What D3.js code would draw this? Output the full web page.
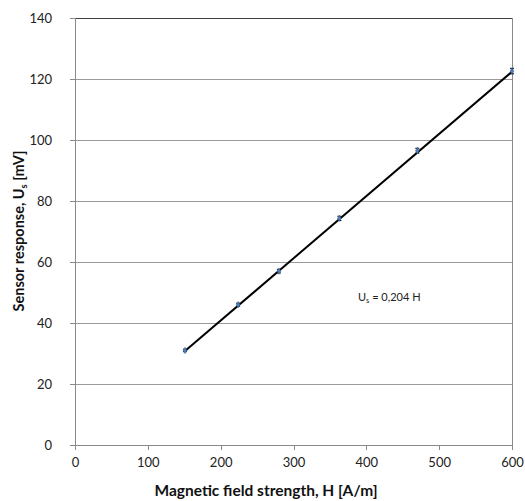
<!DOCTYPE html>
<html><head><meta charset="utf-8">
<script src="https://cdn.jsdelivr.net/npm/d3@7"></script>
<style>body{margin:0;background:#fff}svg{display:block}text{font-family:Lato,"Open Sans",sans-serif}</style>
</head><body>
<svg id="c" width="525" height="501"></svg>
<script>
const fieldH = [151, 224, 280, 363, 470, 600];
const response = [31, 46, 57, 74.3, 96.5, 122.6];
const errorBar = [0.4, 0.5, 0.6, 0.7, 0.8, 0.9];
const slope = 0.204;
const xTicks = [0, 100, 200, 300, 400, 500, 600];
const yTicks = [0, 20, 40, 60, 80, 100, 120, 140];

const svg = d3.select("#c");
const L = 75, R = 512, T = 18, B = 445;
const x = d3.scaleLinear().domain([0, 600]).range([L, R]);
const y = d3.scaleLinear().domain([0, 140]).range([B, T]);

// gridlines
svg.append("g").selectAll("line").data(yTicks.filter(d => d > 0 && d < 140)).join("line")
  .attr("x1", L).attr("x2", R).attr("y1", d => y(d)).attr("y2", d => y(d))
  .attr("stroke", "#9a9a9a").attr("stroke-width", 1).attr("shape-rendering", "crispEdges");

// top & right borders
svg.append("line").attr("x1", L).attr("x2", R).attr("y1", T).attr("y2", T)
  .attr("stroke", "#404040").attr("shape-rendering", "crispEdges");
svg.append("line").attr("x1", R).attr("x2", R).attr("y1", T).attr("y2", B)
  .attr("stroke", "#8a8a8a").attr("shape-rendering", "crispEdges");

// axes
const xAxis = svg.append("g").attr("transform", `translate(0,${B})`)
  .call(d3.axisBottom(x).tickValues(xTicks).tickSize(5).tickPadding(8).tickFormat(d3.format("d")));
const yAxis = svg.append("g").attr("transform", `translate(${L},0)`)
  .call(d3.axisLeft(y).tickValues(yTicks).tickSize(5).tickPadding(18).tickFormat(d3.format("d")));
[xAxis, yAxis].forEach(g => {
  g.select(".domain").attr("stroke", "#8a8a8a").attr("shape-rendering", "crispEdges");
  g.selectAll(".tick line").attr("stroke", "#8a8a8a").attr("shape-rendering", "crispEdges");
  g.selectAll("text").attr("font-family", "Lato, 'Open Sans', sans-serif").attr("font-size", 13).attr("fill", "#222");
});
xAxis.select(".domain").attr("d", `M${L},5V0H${R}V5`);
yAxis.select(".domain").attr("d", `M-5,${T}H0V${B}H-5`);

// trendline
const h0 = d3.min(fieldH), h1 = d3.max(fieldH);
svg.append("line").attr("x1", x(h0)).attr("y1", y(slope * h0)).attr("x2", x(h1)).attr("y2", y(slope * h1))
  .attr("stroke", "#000").attr("stroke-width", 2);

// error bars
const pts = fieldH.map((h, i) => ({h, u: response[i], e: errorBar[i]}));
const eb = svg.append("g").selectAll("g").data(pts).join("g");
eb.append("line").attr("x1", d => x(d.h)).attr("x2", d => x(d.h))
  .attr("y1", d => y(d.u - d.e)).attr("y2", d => y(d.u + d.e)).attr("stroke", "#000");
eb.append("line").attr("x1", d => x(d.h) - 2).attr("x2", d => x(d.h) + 2)
  .attr("y1", d => y(d.u + d.e)).attr("y2", d => y(d.u + d.e)).attr("stroke", "#000");
eb.append("line").attr("x1", d => x(d.h) - 2).attr("x2", d => x(d.h) + 2)
  .attr("y1", d => y(d.u - d.e)).attr("y2", d => y(d.u - d.e)).attr("stroke", "#000");

// markers
svg.append("g").selectAll("path").data(pts).join("path")
  .attr("transform", d => `translate(${x(d.h)},${y(d.u)})`)
  .attr("d", d3.symbol(d3.symbolDiamond, 12))
  .attr("fill", "#4a7ebb").attr("stroke", "#385d8a").attr("stroke-width", 0.5);

// annotation
const ann = svg.append("text").attr("x", 358).attr("y", 301).attr("font-size", 11).attr("fill", "#222");
ann.append("tspan").text("U");
ann.append("tspan").attr("font-size", 7.5).attr("dy", 2).text("s");
ann.append("tspan").attr("dy", -2).text(" = 0,204 H");

// axis titles
svg.append("text").attr("x", 266).attr("y", 496).attr("text-anchor", "middle")
  .attr("font-size", 15.5).attr("font-weight", "bold").attr("fill", "#111")
  .text("Magnetic field strength, H [A/m]");
const yt = svg.append("text").attr("transform", "translate(24,231) rotate(-90)").attr("text-anchor", "middle")
  .attr("font-size", 14.5).attr("font-weight", "bold").attr("fill", "#111");
yt.append("tspan").text("Sensor response, U");
yt.append("tspan").attr("font-size", 9.5).attr("dy", 3).text("s");
yt.append("tspan").attr("dy", -3).text(" [mV]");
</script>
</body></html>
